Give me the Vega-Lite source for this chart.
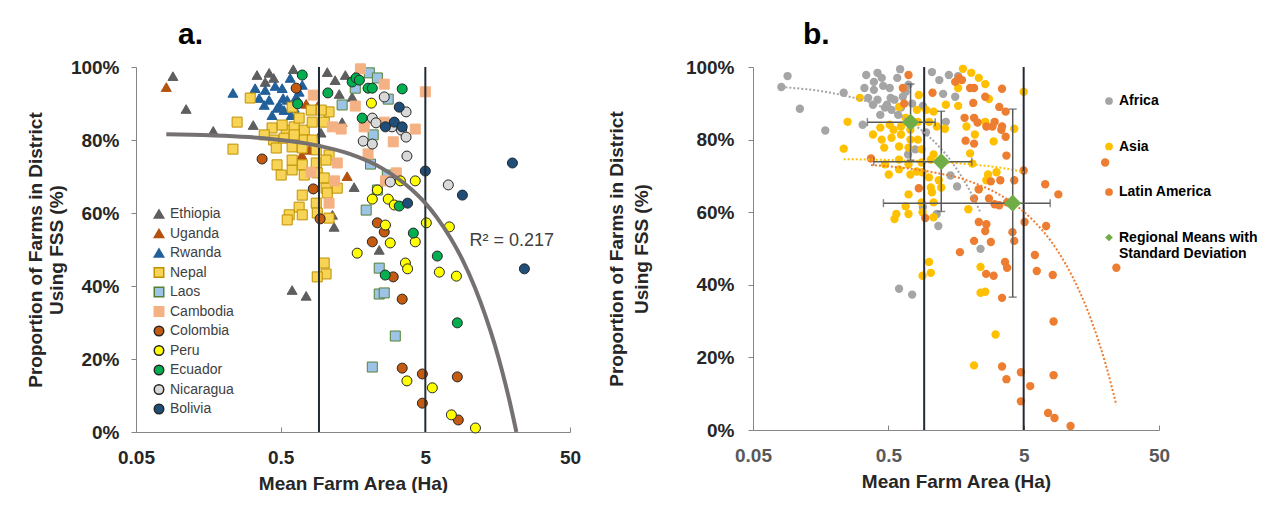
{
  "$schema": "https://vega.github.io/schema/vega-lite/v6.json",
  "padding": {"left": 26, "top": 20, "right": 0, "bottom": 0},
  "config": {
    "view": {"stroke": null},
    "font": "Liberation Sans",
    "axis": {
      "grid": false,
      "domainColor": "#868686",
      "tickColor": "#868686",
      "labelFontSize": 19,
      "labelFontWeight": "bold",
      "labelColor": "#262626",
      "titleFontSize": 19,
      "titleFontWeight": "bold",
      "titleColor": "#262626"
    }
  },
  "resolve": {
    "scale": {"fill": "independent", "stroke": "independent", "shape": "independent", "color": "independent"},
    "legend": {"fill": "independent", "stroke": "independent", "shape": "independent", "color": "independent"}
  },
  "datasets": {
    "farms": [
      {"c": "Ethiopia", "r": "Africa", "x": 0.090, "y": 97.5},
      {"c": "Ethiopia", "r": "Africa", "x": 0.111, "y": 88.5},
      {"c": "Ethiopia", "r": "Africa", "x": 0.171, "y": 82.5},
      {"c": "Ethiopia", "r": "Africa", "x": 0.323, "y": 84.1},
      {"c": "Ethiopia", "r": "Africa", "x": 0.343, "y": 97.8},
      {"c": "Ethiopia", "r": "Africa", "x": 0.391, "y": 95.9},
      {"c": "Ethiopia", "r": "Africa", "x": 0.416, "y": 98.4},
      {"c": "Ethiopia", "r": "Africa", "x": 0.447, "y": 97.0},
      {"c": "Ethiopia", "r": "Africa", "x": 0.611, "y": 99.4},
      {"c": "Ethiopia", "r": "Africa", "x": 1.05, "y": 98.6},
      {"c": "Ethiopia", "r": "Africa", "x": 1.19, "y": 96.4},
      {"c": "Ethiopia", "r": "Africa", "x": 1.40, "y": 97.8},
      {"c": "Ethiopia", "r": "Africa", "x": 1.64, "y": 97.5},
      {"c": "Ethiopia", "r": "Africa", "x": 1.27, "y": 92.6},
      {"c": "Ethiopia", "r": "Africa", "x": 1.56, "y": 91.8},
      {"c": "Ethiopia", "r": "Africa", "x": 1.33, "y": 84.9},
      {"c": "Ethiopia", "r": "Africa", "x": 1.61, "y": 67.1},
      {"c": "Ethiopia", "r": "Africa", "x": 0.90, "y": 61.4},
      {"c": "Ethiopia", "r": "Africa", "x": 1.14, "y": 59.5},
      {"c": "Ethiopia", "r": "Africa", "x": 1.17, "y": 56.2},
      {"c": "Ethiopia", "r": "Africa", "x": 2.40, "y": 49.9},
      {"c": "Ethiopia", "r": "Africa", "x": 0.60, "y": 38.9},
      {"c": "Ethiopia", "r": "Africa", "x": 0.75, "y": 37.3},
      {"c": "Ethiopia", "r": "Africa", "x": 0.95, "y": 82.0},
      {"c": "Uganda", "r": "Africa", "x": 0.081, "y": 94.5},
      {"c": "Uganda", "r": "Africa", "x": 0.75, "y": 89.9},
      {"c": "Uganda", "r": "Africa", "x": 0.90, "y": 89.3},
      {"c": "Uganda", "r": "Africa", "x": 0.70, "y": 75.9},
      {"c": "Uganda", "r": "Africa", "x": 0.79, "y": 77.3},
      {"c": "Uganda", "r": "Africa", "x": 1.44, "y": 70.1},
      {"c": "Rwanda", "r": "Africa", "x": 0.234, "y": 92.9},
      {"c": "Rwanda", "r": "Africa", "x": 0.333, "y": 94.2},
      {"c": "Rwanda", "r": "Africa", "x": 0.355, "y": 91.5},
      {"c": "Rwanda", "r": "Africa", "x": 0.391, "y": 93.7},
      {"c": "Rwanda", "r": "Africa", "x": 0.416, "y": 91.0},
      {"c": "Rwanda", "r": "Africa", "x": 0.458, "y": 94.8},
      {"c": "Rwanda", "r": "Africa", "x": 0.472, "y": 88.8},
      {"c": "Rwanda", "r": "Africa", "x": 0.512, "y": 94.2},
      {"c": "Rwanda", "r": "Africa", "x": 0.520, "y": 91.5},
      {"c": "Rwanda", "r": "Africa", "x": 0.528, "y": 88.2},
      {"c": "Rwanda", "r": "Africa", "x": 0.582, "y": 97.0},
      {"c": "Rwanda", "r": "Africa", "x": 0.591, "y": 86.8},
      {"c": "Rwanda", "r": "Africa", "x": 0.436, "y": 86.8},
      {"c": "Rwanda", "r": "Africa", "x": 0.640, "y": 91.8},
      {"c": "Rwanda", "r": "Africa", "x": 0.705, "y": 95.1},
      {"c": "Rwanda", "r": "Africa", "x": 0.555, "y": 91.0},
      {"c": "Rwanda", "r": "Africa", "x": 0.489, "y": 89.6},
      {"c": "Rwanda", "r": "Africa", "x": 0.385, "y": 89.6},
      {"c": "Rwanda", "r": "Africa", "x": 0.620, "y": 88.8},
      {"c": "Rwanda", "r": "Africa", "x": 0.671, "y": 93.2},
      {"c": "Nepal", "r": "Asia", "x": 0.308, "y": 91.5},
      {"c": "Nepal", "r": "Asia", "x": 0.250, "y": 84.9},
      {"c": "Nepal", "r": "Asia", "x": 0.234, "y": 77.5},
      {"c": "Nepal", "r": "Asia", "x": 0.436, "y": 83.3},
      {"c": "Nepal", "r": "Asia", "x": 0.546, "y": 82.7},
      {"c": "Nepal", "r": "Asia", "x": 0.620, "y": 83.6},
      {"c": "Nepal", "r": "Asia", "x": 0.728, "y": 82.7},
      {"c": "Nepal", "r": "Asia", "x": 0.826, "y": 84.9},
      {"c": "Nepal", "r": "Asia", "x": 0.813, "y": 88.2},
      {"c": "Nepal", "r": "Asia", "x": 1.00, "y": 84.9},
      {"c": "Nepal", "r": "Asia", "x": 1.08, "y": 87.7},
      {"c": "Nepal", "r": "Asia", "x": 0.953, "y": 88.2},
      {"c": "Nepal", "r": "Asia", "x": 0.447, "y": 80.0},
      {"c": "Nepal", "r": "Asia", "x": 0.528, "y": 80.5},
      {"c": "Nepal", "r": "Asia", "x": 0.620, "y": 81.4},
      {"c": "Nepal", "r": "Asia", "x": 0.728, "y": 80.0},
      {"c": "Nepal", "r": "Asia", "x": 0.826, "y": 80.0},
      {"c": "Nepal", "r": "Asia", "x": 0.466, "y": 77.8},
      {"c": "Nepal", "r": "Asia", "x": 0.600, "y": 78.1},
      {"c": "Nepal", "r": "Asia", "x": 0.705, "y": 77.8},
      {"c": "Nepal", "r": "Asia", "x": 0.881, "y": 77.3},
      {"c": "Nepal", "r": "Asia", "x": 1.08, "y": 75.9},
      {"c": "Nepal", "r": "Asia", "x": 0.472, "y": 73.2},
      {"c": "Nepal", "r": "Asia", "x": 0.504, "y": 70.4},
      {"c": "Nepal", "r": "Asia", "x": 0.600, "y": 71.8},
      {"c": "Nepal", "r": "Asia", "x": 0.705, "y": 73.2},
      {"c": "Nepal", "r": "Asia", "x": 0.728, "y": 70.4},
      {"c": "Nepal", "r": "Asia", "x": 0.881, "y": 73.7},
      {"c": "Nepal", "r": "Asia", "x": 1.03, "y": 74.5},
      {"c": "Nepal", "r": "Asia", "x": 0.600, "y": 74.5},
      {"c": "Nepal", "r": "Asia", "x": 0.895, "y": 71.0},
      {"c": "Nepal", "r": "Asia", "x": 1.00, "y": 69.6},
      {"c": "Nepal", "r": "Asia", "x": 1.03, "y": 66.8},
      {"c": "Nepal", "r": "Asia", "x": 0.705, "y": 64.9},
      {"c": "Nepal", "r": "Asia", "x": 0.671, "y": 61.6},
      {"c": "Nepal", "r": "Asia", "x": 0.573, "y": 59.5},
      {"c": "Nepal", "r": "Asia", "x": 0.705, "y": 59.5},
      {"c": "Nepal", "r": "Asia", "x": 0.555, "y": 58.1},
      {"c": "Nepal", "r": "Asia", "x": 0.881, "y": 62.7},
      {"c": "Nepal", "r": "Asia", "x": 0.895, "y": 60.0},
      {"c": "Nepal", "r": "Asia", "x": 1.05, "y": 65.5},
      {"c": "Nepal", "r": "Asia", "x": 1.23, "y": 66.8},
      {"c": "Nepal", "r": "Asia", "x": 0.600, "y": 89.0},
      {"c": "Nepal", "r": "Asia", "x": 1.08, "y": 58.6},
      {"c": "Nepal", "r": "Asia", "x": 1.00, "y": 46.3},
      {"c": "Nepal", "r": "Asia", "x": 1.03, "y": 43.3},
      {"c": "Nepal", "r": "Asia", "x": 0.895, "y": 42.5},
      {"c": "Nepal", "r": "Asia", "x": 0.385, "y": 81.4},
      {"c": "Nepal", "r": "Asia", "x": 0.512, "y": 84.1},
      {"c": "Nepal", "r": "Asia", "x": 0.671, "y": 86.0},
      {"c": "Laos", "r": "Asia", "x": 2.05, "y": 98.4},
      {"c": "Laos", "r": "Asia", "x": 2.33, "y": 97.0},
      {"c": "Laos", "r": "Asia", "x": 1.64, "y": 94.2},
      {"c": "Laos", "r": "Asia", "x": 1.33, "y": 89.6},
      {"c": "Laos", "r": "Asia", "x": 2.77, "y": 91.2},
      {"c": "Laos", "r": "Asia", "x": 2.18, "y": 81.4},
      {"c": "Laos", "r": "Asia", "x": 2.09, "y": 73.4},
      {"c": "Laos", "r": "Asia", "x": 2.73, "y": 70.4},
      {"c": "Laos", "r": "Asia", "x": 2.33, "y": 66.3},
      {"c": "Laos", "r": "Asia", "x": 1.95, "y": 60.8},
      {"c": "Laos", "r": "Asia", "x": 2.40, "y": 44.9},
      {"c": "Laos", "r": "Asia", "x": 2.40, "y": 37.8},
      {"c": "Laos", "r": "Asia", "x": 2.60, "y": 38.1},
      {"c": "Laos", "r": "Asia", "x": 3.10, "y": 26.3},
      {"c": "Laos", "r": "Asia", "x": 2.15, "y": 17.8},
      {"c": "Cambodia", "r": "Asia", "x": 1.78, "y": 99.5},
      {"c": "Cambodia", "r": "Asia", "x": 2.60, "y": 95.3},
      {"c": "Cambodia", "r": "Asia", "x": 1.64, "y": 89.3},
      {"c": "Cambodia", "r": "Asia", "x": 1.89, "y": 83.6},
      {"c": "Cambodia", "r": "Asia", "x": 1.14, "y": 83.6},
      {"c": "Cambodia", "r": "Asia", "x": 1.31, "y": 83.0},
      {"c": "Cambodia", "r": "Asia", "x": 4.26, "y": 83.0},
      {"c": "Cambodia", "r": "Asia", "x": 3.00, "y": 79.5},
      {"c": "Cambodia", "r": "Asia", "x": 2.01, "y": 76.2},
      {"c": "Cambodia", "r": "Asia", "x": 5.00, "y": 93.2},
      {"c": "Cambodia", "r": "Asia", "x": 0.84, "y": 92.3},
      {"c": "Cambodia", "r": "Asia", "x": 1.23, "y": 73.7},
      {"c": "Cambodia", "r": "Asia", "x": 1.18, "y": 68.8},
      {"c": "Cambodia", "r": "Asia", "x": 3.15, "y": 71.0},
      {"c": "Cambodia", "r": "Asia", "x": 2.65, "y": 68.8},
      {"c": "Cambodia", "r": "Asia", "x": 2.60, "y": 84.9},
      {"c": "Cambodia", "r": "Asia", "x": 0.81, "y": 71.2},
      {"c": "Cambodia", "r": "Asia", "x": 1.08, "y": 62.7},
      {"c": "Colombia", "r": "Latin America", "x": 0.640, "y": 94.2},
      {"c": "Colombia", "r": "Latin America", "x": 0.372, "y": 74.8},
      {"c": "Colombia", "r": "Latin America", "x": 0.84, "y": 66.6},
      {"c": "Colombia", "r": "Latin America", "x": 0.937, "y": 58.4},
      {"c": "Colombia", "r": "Latin America", "x": 2.33, "y": 57.3},
      {"c": "Colombia", "r": "Latin America", "x": 2.60, "y": 54.8},
      {"c": "Colombia", "r": "Latin America", "x": 2.15, "y": 52.1},
      {"c": "Colombia", "r": "Latin America", "x": 3.00, "y": 42.5},
      {"c": "Colombia", "r": "Latin America", "x": 3.46, "y": 36.4},
      {"c": "Colombia", "r": "Latin America", "x": 3.46, "y": 17.5},
      {"c": "Colombia", "r": "Latin America", "x": 4.77, "y": 15.9},
      {"c": "Colombia", "r": "Latin America", "x": 8.32, "y": 15.1},
      {"c": "Colombia", "r": "Latin America", "x": 4.77, "y": 7.9},
      {"c": "Colombia", "r": "Latin America", "x": 8.45, "y": 3.3},
      {"c": "Peru", "r": "Latin America", "x": 2.12, "y": 90.1},
      {"c": "Peru", "r": "Latin America", "x": 2.33, "y": 66.3},
      {"c": "Peru", "r": "Latin America", "x": 2.15, "y": 63.8},
      {"c": "Peru", "r": "Latin America", "x": 2.77, "y": 63.8},
      {"c": "Peru", "r": "Latin America", "x": 3.05, "y": 62.2},
      {"c": "Peru", "r": "Latin America", "x": 3.36, "y": 68.8},
      {"c": "Peru", "r": "Latin America", "x": 4.26, "y": 68.8},
      {"c": "Peru", "r": "Latin America", "x": 2.65, "y": 56.7},
      {"c": "Peru", "r": "Latin America", "x": 2.86, "y": 51.8},
      {"c": "Peru", "r": "Latin America", "x": 1.69, "y": 49.0},
      {"c": "Peru", "r": "Latin America", "x": 3.64, "y": 46.3},
      {"c": "Peru", "r": "Latin America", "x": 3.77, "y": 44.7},
      {"c": "Peru", "r": "Latin America", "x": 4.26, "y": 52.1},
      {"c": "Peru", "r": "Latin America", "x": 5.08, "y": 57.3},
      {"c": "Peru", "r": "Latin America", "x": 7.33, "y": 56.2},
      {"c": "Peru", "r": "Latin America", "x": 6.25, "y": 43.8},
      {"c": "Peru", "r": "Latin America", "x": 8.20, "y": 42.7},
      {"c": "Peru", "r": "Latin America", "x": 3.73, "y": 14.0},
      {"c": "Peru", "r": "Latin America", "x": 5.59, "y": 12.1},
      {"c": "Peru", "r": "Latin America", "x": 7.57, "y": 4.7},
      {"c": "Peru", "r": "Latin America", "x": 11.1, "y": 1.1},
      {"c": "Ecuador", "r": "Latin America", "x": 0.705, "y": 97.8},
      {"c": "Ecuador", "r": "Latin America", "x": 0.655, "y": 89.9},
      {"c": "Ecuador", "r": "Latin America", "x": 1.06, "y": 92.9},
      {"c": "Ecuador", "r": "Latin America", "x": 1.56, "y": 95.9},
      {"c": "Ecuador", "r": "Latin America", "x": 1.66, "y": 97.0},
      {"c": "Ecuador", "r": "Latin America", "x": 1.75, "y": 96.4},
      {"c": "Ecuador", "r": "Latin America", "x": 2.01, "y": 94.2},
      {"c": "Ecuador", "r": "Latin America", "x": 2.15, "y": 94.2},
      {"c": "Ecuador", "r": "Latin America", "x": 3.46, "y": 94.0},
      {"c": "Ecuador", "r": "Latin America", "x": 1.83, "y": 86.0},
      {"c": "Ecuador", "r": "Latin America", "x": 3.30, "y": 61.9},
      {"c": "Ecuador", "r": "Latin America", "x": 4.13, "y": 54.5},
      {"c": "Ecuador", "r": "Latin America", "x": 2.64, "y": 43.0},
      {"c": "Ecuador", "r": "Latin America", "x": 6.05, "y": 48.2},
      {"c": "Ecuador", "r": "Latin America", "x": 8.32, "y": 29.9},
      {"c": "Nicaragua", "r": "Latin America", "x": 2.60, "y": 91.8},
      {"c": "Nicaragua", "r": "Latin America", "x": 2.15, "y": 86.0},
      {"c": "Nicaragua", "r": "Latin America", "x": 2.28, "y": 84.7},
      {"c": "Nicaragua", "r": "Latin America", "x": 3.68, "y": 87.7},
      {"c": "Nicaragua", "r": "Latin America", "x": 2.94, "y": 83.6},
      {"c": "Nicaragua", "r": "Latin America", "x": 3.42, "y": 82.7},
      {"c": "Nicaragua", "r": "Latin America", "x": 3.68, "y": 80.8},
      {"c": "Nicaragua", "r": "Latin America", "x": 1.86, "y": 79.7},
      {"c": "Nicaragua", "r": "Latin America", "x": 2.15, "y": 78.9},
      {"c": "Nicaragua", "r": "Latin America", "x": 3.73, "y": 75.6},
      {"c": "Nicaragua", "r": "Latin America", "x": 2.86, "y": 68.5},
      {"c": "Nicaragua", "r": "Latin America", "x": 7.21, "y": 67.7},
      {"c": "Bolivia", "r": "Latin America", "x": 3.30, "y": 89.0},
      {"c": "Bolivia", "r": "Latin America", "x": 3.05, "y": 84.9},
      {"c": "Bolivia", "r": "Latin America", "x": 2.65, "y": 83.6},
      {"c": "Bolivia", "r": "Latin America", "x": 3.46, "y": 83.6},
      {"c": "Bolivia", "r": "Latin America", "x": 5.00, "y": 71.5},
      {"c": "Bolivia", "r": "Latin America", "x": 3.77, "y": 62.7},
      {"c": "Bolivia", "r": "Latin America", "x": 9.02, "y": 64.9},
      {"c": "Bolivia", "r": "Latin America", "x": 20.0, "y": 73.7},
      {"c": "Bolivia", "r": "Latin America", "x": 24.2, "y": 44.7}
    ],
    "vlines": [{"v": 0.92}, {"v": 5}],
    "fitAll": [
      {"x": 0.081, "y": 81.6},
      {"x": 0.3, "y": 80.8},
      {"x": 0.92, "y": 78.4},
      {"x": 1.5, "y": 76.2},
      {"x": 2.5, "y": 72.3},
      {"x": 4, "y": 66.5},
      {"x": 5, "y": 62.7},
      {"x": 6, "y": 58.8},
      {"x": 7.5, "y": 53.0},
      {"x": 9, "y": 47.3},
      {"x": 11, "y": 39.6},
      {"x": 13, "y": 31.9},
      {"x": 15, "y": 24.3},
      {"x": 17, "y": 16.6},
      {"x": 19, "y": 8.9},
      {"x": 21.3, "y": 0}
    ],
    "fitRegion": [
      {"r": "Africa", "x": 0.081, "y": 94.5},
      {"r": "Africa", "x": 0.2, "y": 92.7},
      {"r": "Africa", "x": 0.4, "y": 89.7},
      {"r": "Africa", "x": 0.73, "y": 84.8},
      {"r": "Africa", "x": 1.0, "y": 80.8},
      {"r": "Africa", "x": 1.5, "y": 73.4},
      {"r": "Africa", "x": 2.0, "y": 65.9},
      {"r": "Africa", "x": 2.4, "y": 59.9},
      {"r": "Asia", "x": 0.234, "y": 74.6},
      {"r": "Asia", "x": 0.5, "y": 74.4},
      {"r": "Asia", "x": 1.23, "y": 73.8},
      {"r": "Asia", "x": 2.0, "y": 73.2},
      {"r": "Asia", "x": 3.0, "y": 72.5},
      {"r": "Asia", "x": 4.0, "y": 71.8},
      {"r": "Asia", "x": 5.0, "y": 71.0},
      {"r": "Latin America", "x": 0.372, "y": 73.0},
      {"r": "Latin America", "x": 1.0, "y": 71.2},
      {"r": "Latin America", "x": 2.0, "y": 68.5},
      {"r": "Latin America", "x": 4.15, "y": 62.5},
      {"r": "Latin America", "x": 6.0, "y": 57.4},
      {"r": "Latin America", "x": 8.0, "y": 51.9},
      {"r": "Latin America", "x": 10.0, "y": 46.3},
      {"r": "Latin America", "x": 13.0, "y": 38.0},
      {"r": "Latin America", "x": 16.0, "y": 29.7},
      {"r": "Latin America", "x": 20.0, "y": 18.6},
      {"r": "Latin America", "x": 24.2, "y": 6.9}
    ],
    "means": [
      {"r": "Africa", "mx": 0.73, "my": 84.8, "xlo": 0.35, "xhi": 1.11, "ylo": 74.3, "yhi": 95.3},
      {"r": "Asia", "mx": 1.23, "my": 73.9, "xlo": 0.39, "xhi": 2.07, "ylo": 60.2, "yhi": 87.8},
      {"r": "Latin America", "mx": 4.15, "my": 62.5, "xlo": 0.46, "xhi": 7.85, "ylo": 36.6, "yhi": 88.4}
    ]
  },
  "hconcat": [
    {
      "width": 434,
      "height": 365,
      "title": {"text": "a.", "fontSize": 30, "fontWeight": "bold", "color": "#000000", "anchor": "start", "frame": "group", "dx": 42, "offset": 8},
      "layer": [
        {
          "data": {"name": "farms"},
          "mark": {"type": "point", "filled": false, "opacity": 1, "size": 100, "strokeWidth": 1},
          "encoding": {
            "x": {
              "field": "x", "type": "quantitative",
              "scale": {"type": "log", "domain": [0.05, 50], "nice": false},
              "axis": {"title": "Mean Farm Area (Ha)", "values": [0.05, 0.5, 5, 50], "format": "~g", "tickSize": -5, "labelPadding": 21, "titlePadding": 7, "labelFlush": false}
            },
            "y": {
              "field": "y", "type": "quantitative",
              "scale": {"domain": [0, 100], "nice": false},
              "axis": {"title": ["Proportion of Farms in District", "Using FSS (%)"], "values": [0, 20, 40, 60, 80, 100], "labelExpr": "datum.value + '%'", "tickSize": 5, "labelPadding": 12, "titlePadding": 4, "titleLineHeight": 21}
            },
            "fill": {
              "field": "c", "type": "nominal",
              "scale": {
                "domain": ["Ethiopia", "Uganda", "Rwanda", "Nepal", "Laos", "Cambodia", "Colombia", "Peru", "Ecuador", "Nicaragua", "Bolivia"],
                "range": ["#5e5e5e", "#b4520f", "#22609a", "#f7d455", "#9dc3e6", "#f4b183", "#c55a11", "#ffff00", "#00b050", "#d9d9d9", "#1f4e79"]
              },
              "legend": {"title": null, "orient": "none", "legendX": 16, "legendY": 140, "labelFontSize": 14, "labelColor": "#404040", "rowPadding": 3.5, "symbolSize": 90, "padding": 0}
            },
            "stroke": {
              "field": "c", "type": "nominal",
              "scale": {
                "domain": ["Ethiopia", "Uganda", "Rwanda", "Nepal", "Laos", "Cambodia", "Colombia", "Peru", "Ecuador", "Nicaragua", "Bolivia"],
                "range": ["#5e5e5e", "#b4520f", "#22609a", "#bf9000", "#548235", "#f4b183", "#262626", "#262626", "#262626", "#262626", "#262626"]
              },
              "legend": {"title": null, "orient": "none", "legendX": 16, "legendY": 140, "labelFontSize": 14, "labelColor": "#404040", "rowPadding": 3.5, "symbolSize": 90, "padding": 0}
            },
            "shape": {
              "field": "c", "type": "nominal",
              "scale": {
                "domain": ["Ethiopia", "Uganda", "Rwanda", "Nepal", "Laos", "Cambodia", "Colombia", "Peru", "Ecuador", "Nicaragua", "Bolivia"],
                "range": ["triangle-up", "triangle-up", "triangle-up", "square", "square", "square", "circle", "circle", "circle", "circle", "circle"]
              },
              "legend": {"title": null, "orient": "none", "legendX": 16, "legendY": 140, "labelFontSize": 14, "labelColor": "#404040", "rowPadding": 3.5, "symbolSize": 90, "padding": 0}
            }
          }
        },
        {
          "data": {"name": "vlines"},
          "mark": {"type": "rule", "color": "#222a35", "strokeWidth": 2},
          "encoding": {"x": {"field": "v", "type": "quantitative"}}
        },
        {
          "data": {"name": "fitAll"},
          "mark": {"type": "line", "color": "#767171", "strokeWidth": 4, "interpolate": "monotone"},
          "encoding": {"x": {"field": "x", "type": "quantitative"}, "y": {"field": "y", "type": "quantitative"}}
        },
        {
          "data": {"values": [{"x": 10.1, "y": 52.3, "t": "R² = 0.217"}]},
          "mark": {"type": "text", "align": "left", "baseline": "middle", "fontSize": 18, "color": "#404040"},
          "encoding": {"x": {"field": "x", "type": "quantitative"}, "y": {"field": "y", "type": "quantitative"}, "text": {"field": "t"}}
        }
      ]
    },
    {
      "width": 406,
      "height": 363,
      "title": {"text": "b.", "fontSize": 30, "fontWeight": "bold", "color": "#000000", "anchor": "start", "frame": "group", "dx": 50, "offset": 8},
      "resolve": {"scale": {"color": "shared", "shape": "shared"}},
      "layer": [
        {
          "data": {"name": "farms"},
          "mark": {"type": "point", "filled": true, "opacity": 1, "size": 70},
          "encoding": {
            "x": {
              "field": "x", "type": "quantitative",
              "scale": {"type": "log", "domain": [0.05, 50], "nice": false},
              "axis": {"title": "Mean Farm Area  (Ha)", "values": [0.05, 0.5, 5, 50], "format": "~g", "tickSize": -5, "labelPadding": 21, "titlePadding": 7, "labelColor": "#595959", "labelFlush": false}
            },
            "y": {
              "field": "y", "type": "quantitative",
              "scale": {"domain": [0, 100], "nice": false},
              "axis": {"title": ["Proportion of Farms in District", "Using FSS (%)"], "values": [0, 20, 40, 60, 80, 100], "labelExpr": "datum.value + '%'", "tickSize": 5, "labelPadding": 14, "titlePadding": 34, "titleLineHeight": 25}
            },
            "color": {
              "field": "r", "type": "nominal",
              "scale": {
                "domain": ["Africa", "Asia", "Latin America", "Regional Means with Standard Deviation"],
                "range": ["#a5a5a5", "#ffc000", "#ed7d31", "#70ad47"]
              },
              "legend": {
                "title": null, "orient": "none", "legendX": 349, "legendY": 27, "padding": 0,
                "labelFontSize": 14, "labelFontWeight": "bold", "labelColor": "#000000", "labelLimit": 300,
                "rowPadding": 31.5, "symbolSize": 60, "labelOffset": 3,
                "labelExpr": "datum.label == 'Regional Means with Standard Deviation' ? ['Regional Means with', 'Standard Deviation'] : datum.label"
              }
            },
            "shape": {
              "field": "r", "type": "nominal",
              "scale": {
                "domain": ["Africa", "Asia", "Latin America", "Regional Means with Standard Deviation"],
                "range": ["circle", "circle", "circle", "diamond"]
              },
              "legend": {
                "title": null, "orient": "none", "legendX": 349, "legendY": 27, "padding": 0,
                "labelFontSize": 14, "labelFontWeight": "bold", "labelColor": "#000000", "labelLimit": 300,
                "rowPadding": 31.5, "symbolSize": 60, "labelOffset": 3,
                "labelExpr": "datum.label == 'Regional Means with Standard Deviation' ? ['Regional Means with', 'Standard Deviation'] : datum.label"
              }
            }
          }
        },
        {
          "data": {"name": "vlines"},
          "mark": {"type": "rule", "color": "#222a35", "strokeWidth": 2},
          "encoding": {"x": {"field": "v", "type": "quantitative"}}
        },
        {
          "data": {"name": "fitRegion"},
          "mark": {"type": "line", "strokeWidth": 2, "strokeDash": [2, 2], "interpolate": "monotone"},
          "encoding": {
            "x": {"field": "x", "type": "quantitative"},
            "y": {"field": "y", "type": "quantitative"},
            "stroke": {
              "field": "r", "type": "nominal", "legend": null,
              "scale": {"domain": ["Africa", "Asia", "Latin America"], "range": ["#a5a5a5", "#ffc000", "#ed7d31"]}
            }
          }
        },
        {
          "data": {"name": "means"},
          "mark": {"type": "rule", "color": "#595959", "strokeWidth": 1.5},
          "encoding": {"x": {"field": "xlo", "type": "quantitative"}, "x2": {"field": "xhi"}, "y": {"field": "my", "type": "quantitative"}}
        },
        {
          "data": {"name": "means"},
          "mark": {"type": "rule", "color": "#595959", "strokeWidth": 1.5},
          "encoding": {"x": {"field": "mx", "type": "quantitative"}, "y": {"field": "ylo", "type": "quantitative"}, "y2": {"field": "yhi"}}
        },
        {
          "data": {"name": "means"},
          "mark": {"type": "tick", "orient": "vertical", "color": "#595959", "thickness": 1.5, "size": 8},
          "encoding": {"x": {"field": "xlo", "type": "quantitative"}, "y": {"field": "my", "type": "quantitative"}}
        },
        {
          "data": {"name": "means"},
          "mark": {"type": "tick", "orient": "vertical", "color": "#595959", "thickness": 1.5, "size": 8},
          "encoding": {"x": {"field": "xhi", "type": "quantitative"}, "y": {"field": "my", "type": "quantitative"}}
        },
        {
          "data": {"name": "means"},
          "mark": {"type": "tick", "orient": "horizontal", "color": "#595959", "thickness": 1.5, "size": 8},
          "encoding": {"x": {"field": "mx", "type": "quantitative"}, "y": {"field": "ylo", "type": "quantitative"}}
        },
        {
          "data": {"name": "means"},
          "mark": {"type": "tick", "orient": "horizontal", "color": "#595959", "thickness": 1.5, "size": 8},
          "encoding": {"x": {"field": "mx", "type": "quantitative"}, "y": {"field": "yhi", "type": "quantitative"}}
        },
        {
          "data": {"name": "means"},
          "mark": {"type": "point", "filled": true, "opacity": 1, "size": 290},
          "encoding": {
            "x": {"field": "mx", "type": "quantitative"},
            "y": {"field": "my", "type": "quantitative"},
            "color": {"datum": "Regional Means with Standard Deviation"},
            "shape": {"datum": "Regional Means with Standard Deviation"}
          }
        }
      ]
    }
  ],
  "spacing": 26
}
